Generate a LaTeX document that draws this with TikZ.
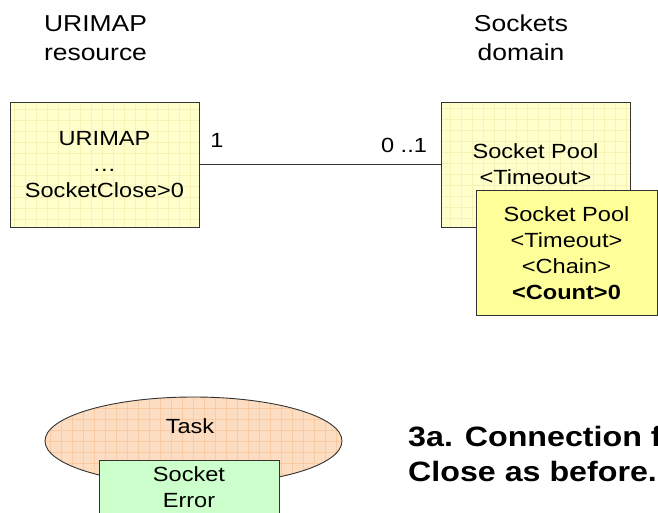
\documentclass[tikz,border=0pt]{standalone}
\usepackage{fontspec}
\setmainfont{Liberation Sans}[FakeStretch=1.15]
\usetikzlibrary{shapes.geometric}

\definecolor{paleyellow}{HTML}{FFFFCC}
\definecolor{paleyellowgrid}{HTML}{F7F2B4}
\definecolor{brightyellow}{HTML}{FFFF99}
\definecolor{peach}{HTML}{FDDDC2}
\definecolor{peachgrid}{HTML}{F9CBA2}
\definecolor{mint}{HTML}{CCFFCC}
\definecolor{edge}{HTML}{333333}

\tikzset{
  boxtext/.style={font=\fontsize{20.5}{26}\selectfont, align=center},
  gridfill/.style={path picture={
      \draw[#1, line width=0.6pt]
        ([shift={(-11,11)}]path picture bounding box.south west) grid[step=11pt]
        (path picture bounding box.north east);}},
  entity/.style={draw=edge, line width=0.9pt, fill=paleyellow,
      gridfill=paleyellowgrid, boxtext, inner sep=0pt,
      minimum width=189pt, minimum height=125pt},
  activebox/.style={draw=edge, line width=0.9pt, fill=brightyellow, boxtext,
      inner sep=0pt, minimum width=181pt, minimum height=125pt},
  errorbox/.style={draw=edge, line width=0.9pt, fill=mint, boxtext,
      inner sep=0pt, minimum width=180pt, minimum height=54pt},
  taskshape/.style={ellipse, draw=edge, line width=0.9pt, fill=peach,
      gridfill=peachgrid, inner sep=0pt, minimum width=297pt, minimum height=88pt},
  heading/.style={font=\fontsize{23}{29}\selectfont, align=center},
  mult/.style={font=\fontsize{20.5}{26}\selectfont, anchor=base},
  note/.style={font=\bfseries\fontsize{28}{35}\selectfont, align=left},
  link/.style={draw=edge, line width=0.9pt}
}

\begin{document}
\begin{tikzpicture}[x=1pt, y=-1pt]
  \clip (0,0) rectangle (658,513);
  \fill[white] (0,0) rectangle (658,513);

  % column headings
  \node[heading] (hdrmap) at (95.5,38) {URIMAP\\resource};
  \node[heading] (hdrsock) at (521,38) {Sockets\\domain};

  % URIMAP resource and the socket pools
  \node[entity] (urimap) at (104.5,164.5) {URIMAP\\…\\SocketClose>0};
  \node[entity] (poolback) at (535.5,164.5) {Socket Pool\\<Timeout>};
  \node[activebox] (poolfront) at (566.5,253) {Socket Pool\\<Timeout>\\<Chain>\\\textbf{<Count>0}};

  % association between URIMAP and pool
  \draw[link] (urimap.east) -- (poolback.west);
  \node[mult] (multmap) at (217,148) {1};
  \node[mult] (multpool) at (404,153) {0 ..1};

  % task with its socket error
  \node[taskshape] (task) at (193.5,441) {};
  \node[mult] (tasklbl) at (190,433) {Task};
  \node[errorbox] (sockerr) at (189,487) {Socket\\Error};

  % step description, running on past the right edge
  \node[note, anchor=north west, inner sep=0pt] (step) at (408,426) {3a. Connection f\\Close as before.};
\end{tikzpicture}
\end{document}
